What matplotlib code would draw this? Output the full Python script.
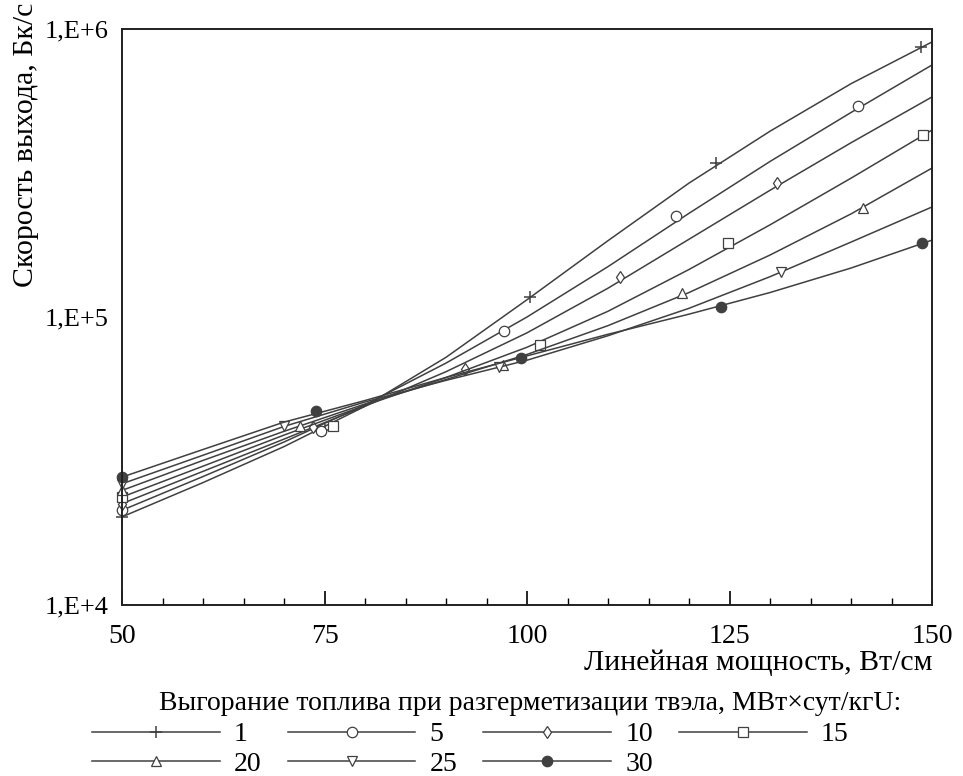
import numpy as np
import matplotlib
matplotlib.use('Agg')
import matplotlib.pyplot as plt
from matplotlib.lines import Line2D
from matplotlib.ticker import FixedLocator, FixedFormatter, MultipleLocator, NullLocator

plt.rcParams['font.family'] = ['Liberation Serif', 'DejaVu Serif']

# linear power, W/cm
x = [50, 60, 70, 80, 90, 100, 110, 120, 130, 140, 150]

# release rate, Bq/s, one curve per burnup at failure (MW*day/kgU)
burnups = ['1', '5', '10', '15', '20', '25', '30']
rate_1 = [20230, 26610, 35480, 48980, 72440, 114800, 184100, 291700, 441600, 645700, 901600]
rate_5 = [21330, 27930, 36810, 49550, 69180, 100000, 149600, 229100, 346700, 512900, 749900]
rate_10 = [22490, 29110, 37670, 48980, 64570, 88100, 125900, 186200, 275400, 402700, 580800]
rate_15 = [23710, 30340, 38900, 49320, 61660, 78520, 104700, 146200, 208900, 303400, 445700]
rate_20 = [25000, 31770, 40090, 49890, 60670, 74130, 93330, 121600, 164100, 228000, 328900]
rate_25 = [26360, 33110, 41690, 50700, 60260, 70790, 86100, 107200, 138000, 182000, 241000]
rate_30 = [27800, 34670, 43150, 51290, 61660, 73280, 87100, 102300, 121600, 147900, 184900]

# marker points as they sit on the curves
mx_1 = [50, 75, 100.4, 123.3, 148.6]
my_1 = [20200, 40500, 117000, 343000, 867000]
mx_5 = [50, 74.6, 97.2, 118.4, 140.9]
my_5 = [21300, 40200, 89300, 224000, 541000]
mx_10 = [50, 73.6, 92.3, 111.5, 130.9]
my_10 = [22500, 41500, 65900, 137600, 292000]
mx_15 = [50, 76, 101.6, 124.8, 148.9]
my_15 = [23700, 42000, 80000, 180000, 429000]
mx_20 = [50, 72, 97, 119.1, 141.5]
my_20 = [25000, 42000, 68000, 121000, 239000]
mx_25 = [50, 70, 96.5, 131.4]
my_25 = [26400, 41700, 67000, 143000]
mx_30 = [50, 74, 99.3, 124, 148.8]
my_30 = [27800, 47200, 72100, 108000, 181000]

rates = [rate_1, rate_5, rate_10, rate_15, rate_20, rate_25, rate_30]
mxs = [mx_1, mx_5, mx_10, mx_15, mx_20, mx_25, mx_30]
mys = [my_1, my_5, my_10, my_15, my_20, my_25, my_30]

ytick_vals = [1e4, 1e5, 1e6]
ytick_labels = ['1,E+4', '1,E+5', '1,E+6']
xtick_vals = [50, 75, 100, 125, 150]

lc = '#404040'
styles = [
    dict(marker='+', ms=9, mfc=lc, mew=1.1),
    dict(marker='o', ms=7.5, mfc='white', mew=0.9),
    dict(marker='d', ms=6, mfc='white', mew=0.9),
    dict(marker='s', ms=7.5, mfc='white', mew=0.9),
    dict(marker='^', ms=7, mfc='white', mew=0.9),
    dict(marker='v', ms=7, mfc='white', mew=0.9),
    dict(marker='o', ms=7.5, mfc=lc, mew=0.9),
]

fig = plt.figure(figsize=(9.63, 7.76), dpi=100)
ax = fig.add_axes([122/963, 1-605/776, (932-122)/963, (605-29)/776])

for i in range(len(burnups)):
    ax.plot(x, rates[i], color=lc, lw=1.1)
    ax.plot(mxs[i], mys[i], ls='none', color=lc, mec=lc, clip_on=False, **styles[i])

ax.set_yscale('log')
ax.set_xlim(50, 150)
ax.set_ylim(1e4, 1e6)
ax.yaxis.set_major_locator(FixedLocator(ytick_vals))
ax.yaxis.set_major_formatter(FixedFormatter(ytick_labels))
ax.yaxis.set_minor_locator(NullLocator())
ax.xaxis.set_major_locator(FixedLocator(xtick_vals))
ax.xaxis.set_minor_locator(MultipleLocator(5))
ax.tick_params(axis='x', which='major', direction='in', length=10, width=1.2, labelsize=20, pad=14)
ax.tick_params(axis='x', which='minor', direction='in', length=5, width=1.0)
ax.tick_params(axis='y', which='major', direction='in', length=0, labelsize=19, pad=10)
for s in ax.spines.values():
    s.set_linewidth(1.4)
    s.set_color('#202020')

fig.text(932/963, 1-663/776, 'Линейная мощность, Вт/см', ha='right', va='center', fontsize=21.5)
fig.text(26/963, 1-3/776, 'Скорость выхода, Бк/с', rotation=90, ha='center', va='top', fontsize=21.5)
fig.text(530/963, 1-703/776, 'Выгорание топлива при разгерметизации твэла, МВт×сут/кгU:',
         ha='center', va='center', fontsize=20)

handles = [Line2D([], [], color=lc, lw=1.1, mec=lc, **styles[i]) for i in range(len(burnups))]
order = [0, 4, 1, 5, 2, 6, 3]
fig.legend([handles[i] for i in order], [burnups[i] for i in order],
           loc='upper left', bbox_to_anchor=(92/963, 1-722/776), ncol=4, frameon=False,
           fontsize=20, handlelength=4.6, handletextpad=0.5, columnspacing=0.95,
           labelspacing=0.15, borderpad=0, borderaxespad=0, numpoints=1)

fig.savefig('out.png', dpi=100)
